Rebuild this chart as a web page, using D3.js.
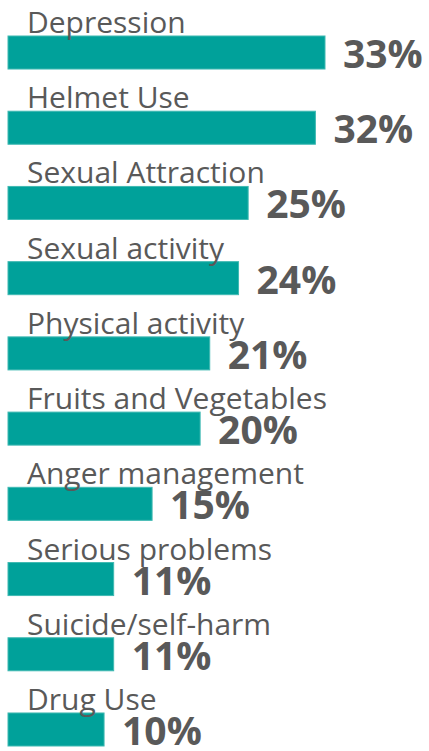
<!DOCTYPE html>
<html>
<head>
<meta charset="utf-8">
<script src="https://cdn.jsdelivr.net/npm/d3@7"></script>
<style>
  body { margin: 0; background: #fff; }
  text { font-family: "Open Sans", sans-serif; }
</style>
</head>
<body>
<svg id="chart" width="429" height="751"></svg>
<script>
var categories = ["Depression", "Helmet Use", "Sexual Attraction", "Sexual activity",
    "Physical activity", "Fruits and Vegetables", "Anger management",
    "Serious problems", "Suicide/self-harm", "Drug Use"];
var values = [33, 32, 25, 24, 21, 20, 15, 11, 11, 10];

var svg = d3.select("#chart"),
    margin = {left: 8, top: 36};

var x = d3.scaleLinear()
    .domain([0, 33])
    .range([margin.left, 325]);

var y = d3.scaleBand()
    .domain(categories)
    .range([margin.top, 746])
    .paddingInner(0.561)
    .paddingOuter(0);

var rows = svg.selectAll("g.row")
    .data(categories)
    .enter().append("g")
    .attr("class", "row");

rows.append("rect")
    .attr("x", x(0))
    .attr("y", function (d) { return y(d); })
    .attr("width", function (d, i) { return x(values[i]) - x(0); })
    .attr("height", y.bandwidth())
    .attr("fill", "#00a19a")
    .attr("stroke", "#3fb9b2")
    .attr("stroke-width", 1);

rows.append("text")
    .attr("x", 27)
    .attr("y", function (d) { return y(d) - 3; })
    .attr("fill", "#595959")
    .style("font-size", "30px")
    .text(function (d) { return d; });

rows.append("text")
    .attr("x", function (d, i) { return x(values[i]) + 18; })
    .attr("y", function (d) { return y(d) + y.bandwidth() - 1; })
    .attr("fill", "#595959")
    .style("font-size", "39px")
    .style("font-weight", "bold")
    .text(function (d, i) { return values[i] + "%"; });
</script>
</body>
</html>
